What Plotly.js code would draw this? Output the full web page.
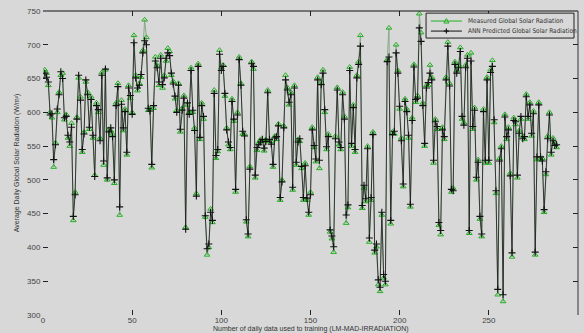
<!DOCTYPE html>
<html>
<head>
<meta charset="utf-8">
<script src="https://cdn.plot.ly/plotly-3.0.1.min.js"></script>
<style>html,body{margin:0;padding:0;background:#d8d8d8;}#chart{width:584px;height:333px;}</style>
</head>
<body>
<div id="chart"></div>
<script>
const measured = [663,658,640,600,592,519,555,600,630,655,658,589,597,562,550,584,440,482,593,651,
623,541,571,645,630,575,623,562,507,614,600,562,659,522,663,500,575,573,568,495,
614,643,448,618,573,605,537,640,621,600,714,655,632,643,652,692,737,711,603,606,
518,606,682,670,640,685,636,655,676,695,690,655,646,620,603,643,571,606,625,430,
611,600,666,600,577,480,672,560,614,590,445,389,400,457,437,633,532,542,692,666,
670,624,577,552,545,620,587,482,600,682,643,568,568,438,416,520,675,664,503,544,
555,560,557,543,560,633,557,557,519,565,560,583,470,500,580,655,637,611,630,485,
640,522,560,557,517,470,525,470,448,482,578,548,527,652,517,645,663,600,545,568,
423,413,393,565,637,552,545,630,594,436,459,667,550,611,541,655,675,714,458,488,
468,550,408,470,571,392,401,345,335,448,355,345,678,725,435,571,568,700,662,605,
562,490,620,605,562,460,592,671,615,625,746,718,614,550,640,640,670,652,525,590,
575,433,419,578,560,652,704,643,482,488,675,662,670,696,590,585,670,685,421,688,
575,607,500,530,442,416,605,525,652,525,663,677,585,480,330,532,550,320,597,560,
578,510,386,592,582,503,573,590,565,560,627,590,615,565,602,389,530,615,530,532,
452,508,565,600,537,562,555,548];
const predicted = [658,652,645,596,598,530,552,605,626,660,650,592,594,566,556,578,446,478,590,655,
618,545,568,648,626,578,619,566,505,610,604,558,655,528,664,503,571,577,564,500,
610,638,460,612,577,601,541,636,625,597,703,651,636,640,656,688,706,700,606,602,
523,610,676,666,645,680,641,651,680,688,684,658,642,624,600,640,575,603,621,427,
614,597,662,603,573,476,668,563,610,594,447,398,405,452,440,628,536,545,686,662,
668,628,574,556,548,616,590,486,596,678,640,572,565,441,420,516,672,668,507,548,
552,556,560,547,557,629,560,553,523,562,564,580,474,497,577,648,633,615,626,489,
636,526,556,561,520,474,521,473,452,478,574,551,531,648,529,641,658,604,549,564,
426,417,401,561,633,556,548,626,590,448,463,662,554,607,545,651,671,698,462,492,
472,546,414,474,567,396,405,352,341,452,360,350,675,682,440,567,572,688,658,609,
558,494,616,601,566,464,588,667,619,621,725,705,610,554,636,644,658,648,529,586,
579,437,425,574,564,648,698,639,486,484,671,658,666,690,594,581,666,680,425,676,
579,603,504,526,446,420,601,529,648,529,659,668,589,484,338,528,546,330,593,564,
574,506,392,588,586,507,569,594,561,564,623,594,611,569,598,393,534,611,534,528,
456,512,561,596,541,558,551,552];
const days = measured.map((v, i) => i + 1);
const seriesNames = ['Measured Global Solar Radiation', 'ANN Predicted Global Solar Radiation'];
const xTicks = [0, 50, 100, 150, 200, 250, 300];
const yTicks = [300, 350, 400, 450, 500, 550, 600, 650, 700, 750];
const xTitle = 'Number of daily data used to training (LM-MAD-IRRADIATION)';
const yTitle = 'Average Daily Global Solar Radiation (W/m\u00b2)';

const bg = '#d8d8d8';
const fam = 'Liberation Sans, Arial, sans-serif';
const narrow = 'Liberation Sans Narrow, DejaVu Sans Condensed, Liberation Sans, sans-serif';
const greenLine = '#8aa88a', greenMark = '#22b022', black = '#111111';
const traces = [
  {x: days, y: measured, name: seriesNames[0], type: 'scatter', mode: 'lines+markers',
   line: {color: greenLine, width: 1},
   marker: {symbol: 'triangle-up-open', size: 5, color: greenMark, line: {width: 1}}},
  {x: days, y: predicted, name: seriesNames[1], type: 'scatter', mode: 'lines+markers',
   line: {color: '#1a1a1a', width: 0.8},
   marker: {symbol: 'cross-thin-open', size: 5, color: black, line: {width: 1.1, color: black}}}
];
const axisFont = {family: fam, size: 8, color: '#444'};

// compact legend (decoration, in paper coordinates)
const lg = {x0: 0.716, x1: 0.9925, y0: 0.911, y1: 0.993, lx0: 0.725, lx1: 0.783, mx: 0.754, tx: 0.790, ya: 0.967, yb: 0.934};
const legendShapes = [
  {type: 'rect', xref: 'paper', yref: 'paper', x0: lg.x0, x1: lg.x1, y0: lg.y0, y1: lg.y1, fillcolor: bg, line: {color: '#222', width: 1}},
  {type: 'line', xref: 'paper', yref: 'paper', x0: lg.lx0, x1: lg.lx1, y0: lg.ya, y1: lg.ya, line: {color: greenMark, width: 1}},
  {type: 'path', xref: 'paper', yref: 'paper', xsizemode: 'pixel', ysizemode: 'pixel', xanchor: lg.mx, yanchor: lg.ya,
   path: 'M -2.5 -2 L 2.5 -2 L 0 2.5 Z', line: {color: greenMark, width: 1}},
  {type: 'line', xref: 'paper', yref: 'paper', x0: lg.lx0, x1: lg.lx1, y0: lg.yb, y1: lg.yb, line: {color: black, width: 1}},
  {type: 'line', xref: 'paper', yref: 'paper', xsizemode: 'pixel', xanchor: lg.mx, x0: -2.5, x1: 2.5, y0: lg.yb, y1: lg.yb, line: {color: black, width: 1.2}},
  {type: 'line', xref: 'paper', yref: 'paper', ysizemode: 'pixel', yanchor: lg.yb, x0: lg.mx, x1: lg.mx, y0: -2.5, y1: 2.5, line: {color: black, width: 1.2}}
];

const layout = {
  width: 584, height: 333,
  margin: {l: 43, r: 6, t: 11, b: 18, pad: 0},
  paper_bgcolor: bg, plot_bgcolor: bg,
  showlegend: false,
  xaxis: {range: [0, 300], tickvals: xTicks, ticktext: xTicks.map(String),
    showgrid: false, zeroline: false, showline: true, linecolor: bg, mirror: 'ticks',
    ticks: 'inside', ticklen: 5, tickcolor: '#222', tickfont: axisFont, ticklabelstandoff: -3},
  yaxis: {range: [300, 750], tickvals: yTicks, ticktext: yTicks.map(String),
    showgrid: false, zeroline: false, showline: true, linecolor: bg, mirror: 'ticks',
    ticks: 'inside', ticklen: 5, tickcolor: '#222', tickfont: axisFont,
    title: {text: yTitle, standoff: 6, font: {family: fam, size: 7, color: '#333'}}},
  annotations: [
    {text: xTitle, xref: 'paper', yref: 'paper', x: 0.5, y: -0.047, yanchor: 'middle',
     showarrow: false, font: {family: fam, size: 7, color: '#333'}},
    {text: seriesNames[0], xref: 'paper', yref: 'paper', x: lg.tx, y: lg.ya, xanchor: 'left', yanchor: 'middle',
     showarrow: false, font: {family: narrow, size: 6.5, color: '#333'}},
    {text: seriesNames[1], xref: 'paper', yref: 'paper', x: lg.tx, y: lg.yb, xanchor: 'left', yanchor: 'middle',
     showarrow: false, font: {family: narrow, size: 6.5, color: '#333'}}
  ],
  shapes: [
    {type: 'line', xref: 'paper', yref: 'paper', x0: 0, x1: 1, y0: 1, y1: 1, line: {color: '#111', width: 1}},
    {type: 'line', xref: 'paper', yref: 'paper', x0: 1, x1: 1, y0: 0, y1: 1, line: {color: '#333', width: 1}}
  ].concat(legendShapes)
};
Plotly.newPlot('chart', traces, layout, {displayModeBar: false, staticPlot: true});
</script>
</body>
</html>
